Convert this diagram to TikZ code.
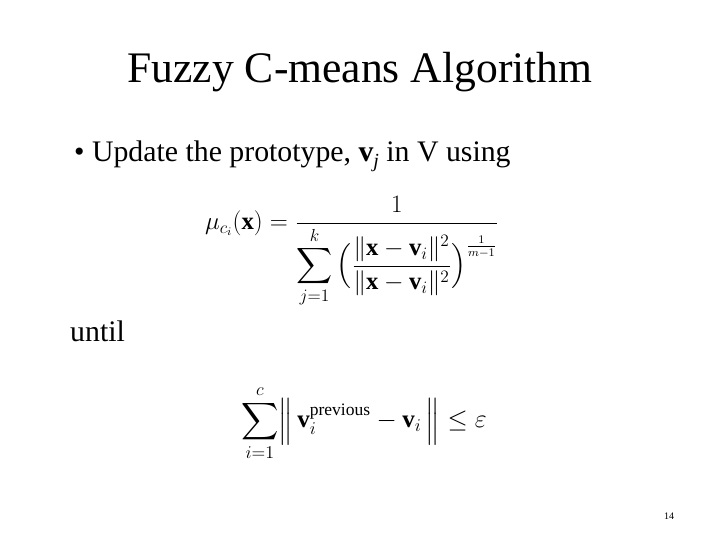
\documentclass[tikz,border=0pt]{standalone}
\usepackage{amsmath}
\usepackage{graphicx}
\usepackage{fontspec}
\setmainfont{Liberation Serif}
\begin{document}
\begin{tikzpicture}[x=1pt,y=-1pt,
  txt/.style={anchor=base west,inner sep=0pt},
  frm/.style={inner sep=0pt}]
\useasboundingbox[fill=white] (0,0) rectangle (720,540);
\node[inner sep=0pt,anchor=base] (title) at (360,83) {\fontsize{43.6}{48}\selectfont Fuzzy C-means Algorithm};
\node[txt] (b1) at (74,162) {\fontsize{29.8}{32}\selectfont \textbullet\ Update the prototype, \textbf{v}\raisebox{-0.2em}{\fontsize{20}{22}\selectfont\textit{j}} in V using};
\node[frm] (f1) at (352,252) {\scalebox{1.45}{\fontsize{17}{20}\selectfont $\displaystyle \mu_{c_i}(\mathbf{x}) = \frac{1}{\displaystyle\sum_{j=1}^{k}\,\Bigl(\frac{\|\mathbf{x}-\mathbf{v}_i\|^2}{\|\mathbf{x}-\mathbf{v}_i\|^2}\Bigr)^{\frac{1}{m-1}}}$}};
\node[txt] (u) at (70,341) {\fontsize{29.8}{32}\selectfont until};
\node[frm] (f2) at (364,423) {\scalebox{1.25}{\fontsize{20}{24}\selectfont $\displaystyle \sum_{i=1}^{c}\Bigl\|\,\mathbf{v}_i^{\text{previous}}-\mathbf{v}_i\,\Bigr\| \le \varepsilon$}};
\node[txt] (pn) at (664,519) {\fontsize{10}{12}\selectfont 14};
\end{tikzpicture}
\end{document}
